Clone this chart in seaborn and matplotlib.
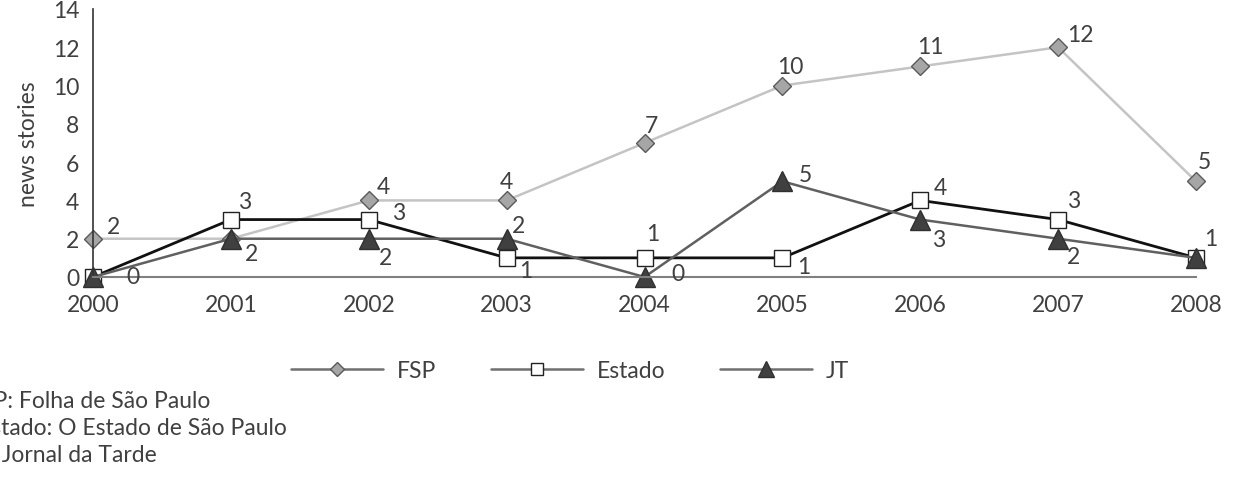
import matplotlib
matplotlib.use("Agg")
import matplotlib.pyplot as plt
import seaborn as sns
import pandas as pd

years = [2000, 2001, 2002, 2003, 2004, 2005, 2006, 2007, 2008]
fsp = [2, 2, 4, 4, 7, 10, 11, 12, 5]
estado = [0, 3, 3, 1, 1, 1, 4, 3, 1]
jt = [0, 2, 2, 2, 0, 5, 3, 2, 1]
series_names = ["FSP", "Estado", "JT"]
yticks = [0, 2, 4, 6, 8, 10, 12, 14]
footnotes = ["FSP: Folha de São Paulo", "Estado: O Estado de São Paulo", "JT: Jornal da Tarde"]

# label offsets in pixels (style only); None = label hidden in reference
off_fsp = [(20, 12), None, (15, 14), (0, 19), (7, 17), (8, 19), (10, 20), (22, 13), (8, 20)]
off_est = [(40, 0), (14, 18), (30, 7), (19, -13), (8, 24), (21, -9), (20, 13), (16, 19), (15, 19)]
off_jt = [None, (21, -15), (17, -19), (12, 13), (33, 3), (23, 7), (18, -20), (15, -18), None]
foot_x = [-32, -22, -33]  # pixels; the reference crops these lines at the left edge

sns.set_theme(style="white")
plt.rcParams["font.family"] = ["Lato", "DejaVu Sans"]
txt = "#404040"
fs = 16.5

fig = plt.figure(figsize=(12.47, 4.85), dpi=100)
ax = fig.add_axes([93 / 1247, 1 - 278 / 485, (1196 - 93) / 1247, (278 - 10) / 485])

styles = [
    dict(data=fsp, color="#c4c4c4", marker="D", mfc="#a6a6a6", mec="#5a5a5a", ms=9.5, lw=1.8, offs=off_fsp),
    dict(data=estado, color="#111111", marker="s", mfc="white", mec="#222222", ms=11.5, lw=2.0, offs=off_est),
    dict(data=jt, color="#606060", marker="^", mfc="#404040", mec="#303030", ms=15, lw=1.8, offs=off_jt),
]

for name, st in zip(series_names, styles):
    df = pd.DataFrame({"year": years, "value": st["data"]})
    sns.lineplot(data=df, x="year", y="value", ax=ax, color=st["color"], lw=st["lw"],
                 marker=st["marker"], markerfacecolor=st["mfc"], markeredgecolor=st["mec"],
                 markersize=st["ms"], markeredgewidth=1.0, clip_on=False, label=name)
    for x, y, o in zip(years, st["data"], st["offs"]):
        if o is None:
            continue
        ax.annotate(str(y), (x, y), xytext=o, textcoords="offset pixels",
                    ha="center", va="center", fontsize=fs, color=txt)

ax.set_xlim(2000, 2008)
ax.set_ylim(0, 14)
ax.set_xticks(years)
ax.set_xticklabels([str(y) for y in years])
ax.set_yticks(yticks)
ax.set_xlabel("")
ax.set_ylabel("news stories", fontsize=fs, color=txt, labelpad=10)
for s in ["top", "right"]:
    ax.spines[s].set_visible(False)
ax.spines["bottom"].set_color("#808080")
ax.spines["bottom"].set_linewidth(1.5)
ax.spines["left"].set_color("#333333")
ax.spines["left"].set_linewidth(1.2)
ax.tick_params(axis="both", which="both", length=7, width=1.2, colors="#808080",
               labelsize=fs, labelcolor=txt, direction="out")
ax.tick_params(axis="y", colors="#333333", labelcolor=txt, pad=3)
ax.tick_params(axis="x", pad=5)

leg = ax.legend(loc="center", bbox_to_anchor=(570 / 1247, 1 - 372 / 485),
                bbox_transform=fig.transFigure, ncol=3, frameon=False, fontsize=fs,
                handlelength=4.0, columnspacing=2.4, handletextpad=0.6)
for t in leg.get_texts():
    t.set_color(txt)
for h, ms in zip(leg.legend_handles, [7, 9, 11]):
    h.set_markersize(ms)
    h.set_color("#707070")
    h.set_linewidth(1.8)

for i, (line, fx) in enumerate(zip(footnotes, foot_x)):
    fig.text(fx / 1247, 1 - (402 + 27 * i) / 485, line, ha="left", va="center",
             fontsize=fs, color=txt)

fig.savefig("out.png", dpi=100)
